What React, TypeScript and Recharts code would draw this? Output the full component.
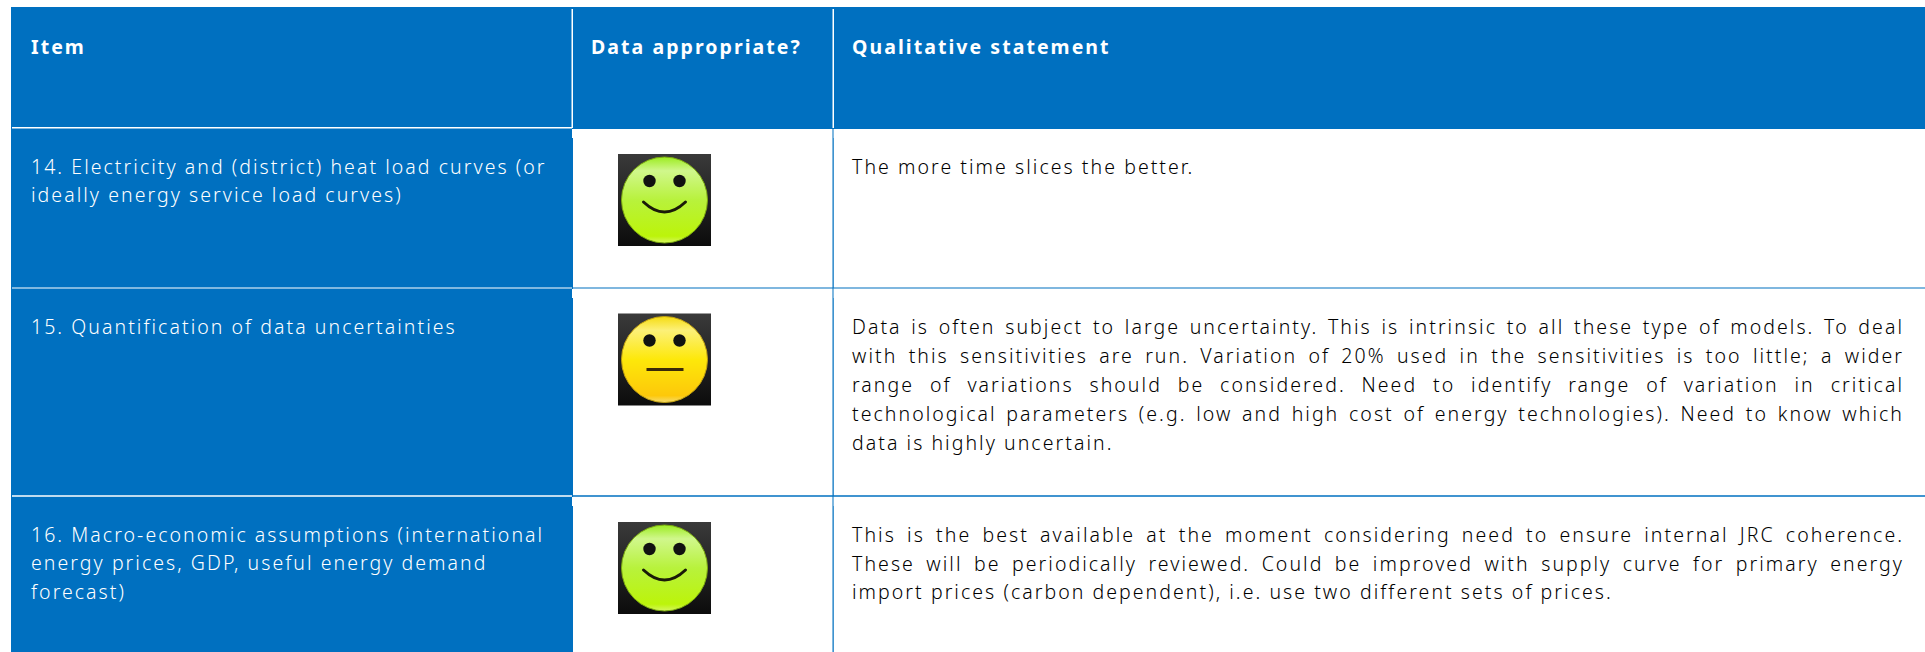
import React from "react";
import { ComposedChart, Scatter, ReferenceArea, XAxis, YAxis } from "recharts";

// ---------- content ----------
const headers = ["Item", "Data appropriate?", "Qualitative statement"];
const itemLines = [
  ["14. Electricity and (district) heat load curves (or", "ideally energy service load curves)"],
  ["15. Quantification of data uncertainties"],
  ["16. Macro-economic assumptions (international", "energy prices, GDP, useful energy demand", "forecast)"],
];
const ratings = ["good", "neutral", "good"];
const statementLines = [
  ["The more time slices the better."],
  [
    "Data is often subject to large uncertainty. This is intrinsic to all these type of models. To deal",
    "with this sensitivities are run. Variation of 20% used in the sensitivities is too little; a wider",
    "range of variations should be considered. Need to identify range of variation in critical",
    "technological parameters (e.g. low and high cost of energy technologies). Need to know which",
    "data is highly uncertain.",
  ],
  [
    "This is the best available at the moment considering need to ensure internal JRC coherence.",
    "These will be periodically reviewed. Could be improved with supply curve for primary energy",
    "import prices (carbon dependent), i.e. use two different sets of prices.",
  ],
];

// ---------- layout ----------
const W = 1925;
const H = 652;
const BLUE = "#0070C0";
const LEFT = 11;
const TOP = 7;
const COL2 = 572;
const COL3 = 833;
const HEAD_BOTTOM = 128;
const ROW_LINES = [288, 496];
const ROW_TOPS = [129, 289, 497];
const TEXT_X = [31, 591, 852];
const TEXT_RIGHT = 1904;
const HEAD_BASE = 54;
const ROW_BASE = [174, 334, 542];
const LINE_H = [28, 29, 28.5];
const ICON_X = 664.5;
const ICON_Y = [200, 359.5, 568];
const FONT = '"Noto Sans", sans-serif';
const FS = 19.5;
const LS = 2.05;
const WEIGHT = 300;

function justifySpacing(text: string, width: number) {
  if (typeof document === "undefined") return 0;
  const ctx = document.createElement("canvas").getContext("2d") as any;
  ctx.font = `${WEIGHT} ${FS}px "Noto Sans"`;
  ctx.letterSpacing = `${LS}px`;
  const gaps = text.split(" ").length - 1;
  return (width - ctx.measureText(text).width) / gaps;
}

const headerPoints = headers.map((text, i) => ({ x: TEXT_X[i], y: HEAD_BASE, text, bold: true, fill: "#fff" }));
const itemPoints = itemLines.flatMap((lines, r) =>
  lines.map((text, l) => ({ x: TEXT_X[0], y: ROW_BASE[r] + l * 28.4, text, fill: "#ffffff" }))
);
const statementPoints = statementLines.flatMap((lines, r) =>
  lines.map((text, l) => ({
    x: TEXT_X[2],
    y: ROW_BASE[r] + l * LINE_H[r],
    text,
    fill: "#000",
    ws: lines.length > 1 && l < lines.length - 1 ? justifySpacing(text, TEXT_RIGHT - TEXT_X[2]) : 0,
  }))
);
const iconPoints = ratings.map((rating, r) => ({ x: ICON_X, y: ICON_Y[r], rating, id: r }));

const TextShape = (p: any) => {
  const d = p.payload;
  return (
    <text
      x={p.cx}
      y={p.cy}
      fill={d.fill}
      fontFamily={FONT}
      fontSize={FS}
      fontWeight={d.bold ? 700 : WEIGHT}
      letterSpacing={d.bold ? 2.05 : LS}
      wordSpacing={d.ws || 0}
      style={{ whiteSpace: "pre" }}
    >
      {d.text}
    </text>
  );
};

const Smiley = (p: any) => {
  const { cx, cy } = p;
  const d = p.payload;
  const good = d.rating === "good";
  const gid = `face-${d.id}`;
  const bg = `bg-${d.id}`;
  return (
    <g>
      <defs>
        <linearGradient id={bg} x1="0" y1="0" x2="0" y2="1">
          <stop offset="0" stopColor="#3a3a3a" />
          <stop offset="1" stopColor="#0c0c0c" />
        </linearGradient>
        <linearGradient id={gid} x1="0" y1="0" x2="0" y2="1">
          {good ? (
            <>
              <stop offset="0" stopColor="#9cec20" />
              <stop offset="0.16" stopColor="#d0f78c" />
              <stop offset="0.5" stopColor="#b8f23c" />
              <stop offset="0.92" stopColor="#bcf40a" />
              <stop offset="1" stopColor="#d6f660" />
            </>
          ) : (
            <>
              <stop offset="0" stopColor="#f5dc10" />
              <stop offset="0.16" stopColor="#fcf078" />
              <stop offset="0.5" stopColor="#fde80a" />
              <stop offset="0.92" stopColor="#fdc80a" />
              <stop offset="1" stopColor="#f5dc70" />
            </>
          )}
        </linearGradient>
      </defs>
      <rect x={cx - 46.5} y={cy - 46} width={93} height={92} fill={`url(#${bg})`} />
      <circle cx={cx} cy={cy} r={43} fill={`url(#${gid})`} stroke={good ? "#7aa810" : "#c0a010"} strokeWidth={1} />
      <circle cx={cx - 15} cy={cy - 19} r={6.2} fill="#111" />
      <circle cx={cx + 15} cy={cy - 19} r={6.2} fill="#111" />
      {good ? (
        <path d={`M${cx - 21} ${cy + 2} Q${cx} ${cy + 22} ${cx + 21} ${cy + 2}`} fill="none" stroke="#1a1a08" strokeWidth={3} strokeLinecap="round" />
      ) : (
        <line x1={cx - 18} x2={cx + 19} y1={cy + 10} y2={cy + 10} stroke="#3a2a08" strokeWidth={3} />
      )}
    </g>
  );
};

export default function App() {
  return (
    <div style={{ position: "absolute", left: 0, top: 0, width: W, height: H, overflow: "hidden", background: "#fff" }}>
      <style>{"html,body{margin:0;overflow:hidden;background:#fff}"}</style>
      <ComposedChart width={W} height={H} margin={{ top: 0, right: 0, bottom: 0, left: 0 }}>
        <XAxis type="number" dataKey="x" domain={[0, W]} hide allowDataOverflow />
        <YAxis type="number" dataKey="y" domain={[0, H]} reversed hide allowDataOverflow />
        {/* header band and left column */}
        <ReferenceArea x1={LEFT} x2={W} y1={TOP} y2={HEAD_BOTTOM + 1} fill={BLUE} fillOpacity={1} stroke="none" />
        <ReferenceArea x1={LEFT} x2={COL2 + 1} y1={HEAD_BOTTOM} y2={H} fill={BLUE} fillOpacity={1} stroke="none" />
        {/* header rules */}
        <ReferenceArea x1={12} x2={COL2} y1={HEAD_BOTTOM - 1} y2={HEAD_BOTTOM + 0.6} fill="#fff" fillOpacity={1} stroke="none" />
        <ReferenceArea x1={COL2 - 0.5} x2={COL2 + 1} y1={9} y2={HEAD_BOTTOM} fill="#fff" fillOpacity={1} stroke="none" />
        <ReferenceArea x1={COL3 - 0.5} x2={COL3 + 1} y1={9} y2={HEAD_BOTTOM} fill="#fff" fillOpacity={1} stroke="none" />
        {/* body grid */}
        <ReferenceArea x1={COL3 - 0.5} x2={COL3 + 0.5} y1={HEAD_BOTTOM + 1} y2={H} fill={BLUE} fillOpacity={1} stroke="none" />
        {ROW_TOPS.map((y, i) => (
          <ReferenceArea key={`c${i}`} x1={COL3 + 0.5} x2={COL3 + 1} y1={y + 9} y2={i < 2 ? ROW_LINES[i] : H} fill={BLUE} fillOpacity={1} stroke="none" />
        ))}
        {ROW_LINES.map((y, i) => (
          <ReferenceArea key={`w${i}`} x1={12} x2={COL2} y1={y - 0.5 - i * 0.3} y2={y + 0.5 + i * 0.3} fill="#fff" fillOpacity={1} stroke="none" />
        ))}
        {ROW_LINES.map((y, i) => (
          <ReferenceArea key={`b${i}`} x1={COL2} x2={W} y1={y - 0.5 - i * 0.3} y2={y + 0.5 + i * 0.3} fill={BLUE} fillOpacity={1} stroke="none" />
        ))}
        {ROW_TOPS.map((y, i) => (
          <ReferenceArea key={`n${i}`} x1={COL2} x2={COL2 + 1} y1={y} y2={y + 9} fill="#fff" fillOpacity={1} stroke="none" />
        ))}
        <Scatter name="headers" data={headerPoints} shape={TextShape} isAnimationActive={false} />
        <Scatter name="items" data={itemPoints} shape={TextShape} isAnimationActive={false} />
        <Scatter name="statements" data={statementPoints} shape={TextShape} isAnimationActive={false} />
        <Scatter name="ratings" data={iconPoints} shape={Smiley} isAnimationActive={false} />
      </ComposedChart>
    </div>
  );
}
